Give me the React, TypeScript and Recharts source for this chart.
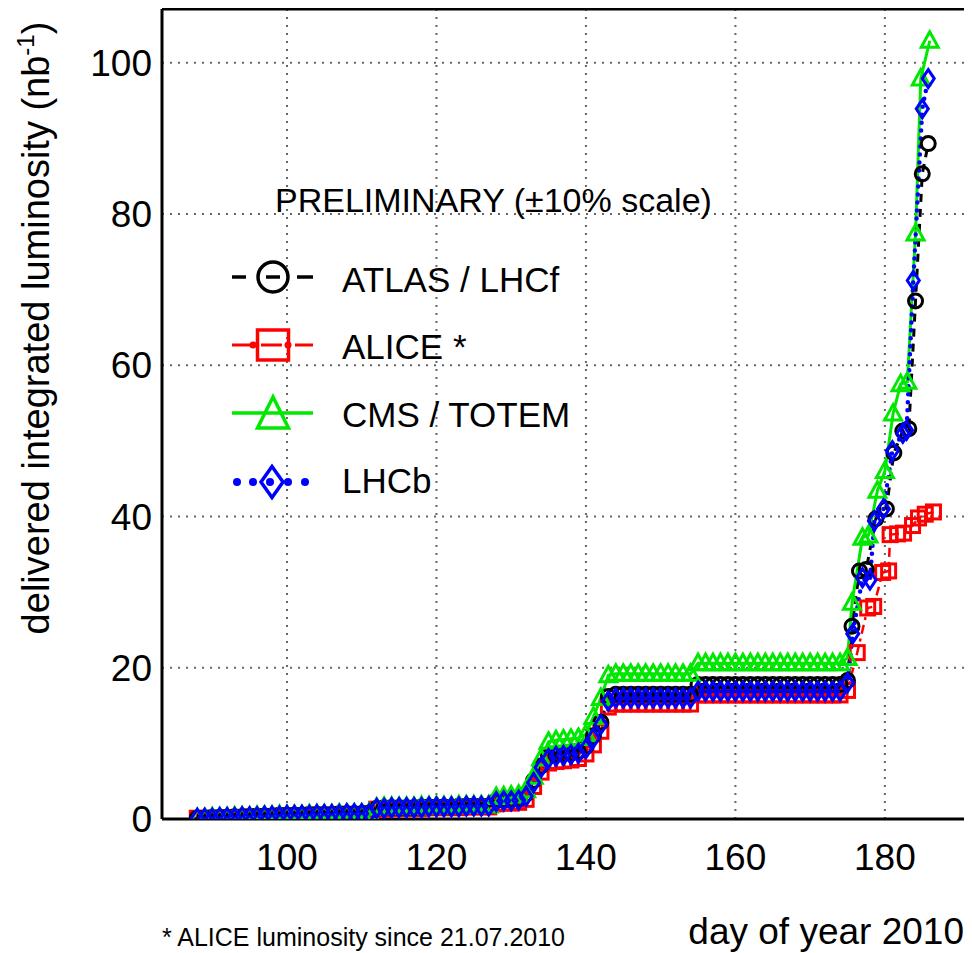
import { LineChart, Line, XAxis, YAxis, CartesianGrid, ReferenceLine } from "recharts";

const FONT = '"Liberation Sans", Arial, Helvetica, sans-serif';

const xTicks = [100, 120, 140, 160, 180];
const yTicks = [0, 20, 40, 60, 80, 100];

// days with one point per day (day of year 2010)
const dailyDays = [
  88, 89, 90, 91, 92, 93, 94, 95, 96, 97,
  98, 99, 100, 101, 102, 103, 104, 105, 106, 107,
  108, 109, 110, 111, 112, 113, 114, 115, 116, 117,
  118, 119, 120, 121, 122, 123, 124, 125, 126, 127,
  128, 129, 130, 131, 132, 133, 134, 135, 136, 137,
  138, 139, 140, 141, 142, 143, 144, 145, 146, 147,
  148, 149, 150, 151, 152, 153, 154, 155, 156, 157,
  158, 159, 160, 161, 162, 163, 164, 165, 166, 167,
  168, 169, 170, 171, 172, 173, 174,
];

// delivered integrated luminosity, nb^-1
const atlasDaily = [
  0.1, 0.1, 0.2, 0.2, 0.2, 0.3, 0.3, 0.3, 0.4, 0.4,
  0.4, 0.5, 0.5, 0.5, 0.5, 0.6, 0.6, 0.6, 0.6, 0.7,
  0.7, 0.7, 0.7, 0.8, 1.4, 1.5, 1.5, 1.5, 1.5, 1.5,
  1.6, 1.6, 1.6, 1.6, 1.6, 1.7, 1.7, 1.7, 1.7, 1.7,
  2.4, 2.5, 2.5, 2.6, 3.3, 5.1, 7.0, 8.3, 8.5, 8.6,
  8.7, 8.9, 9.6, 11.0, 12.8, 16.2, 16.5, 16.5, 16.5, 16.5,
  16.5, 16.5, 16.5, 16.5, 16.5, 16.5, 16.5, 17.8, 17.8, 17.8,
  17.8, 17.8, 17.8, 17.8, 17.8, 17.8, 17.8, 17.8, 17.8, 17.8,
  17.8, 17.8, 17.8, 17.8, 17.8, 17.8, 17.8,
];
const atlasTail: [number, number][] = [
  [175, 18.3], [175.6, 25.5], [176.6, 32.8], [177.5, 33.0], [178.8, 39.7], [180.2, 41.0],
  [181.2, 48.4], [182.4, 51.3], [183.2, 51.6], [184.1, 68.5], [185.0, 85.3], [185.8, 89.3],
];

const aliceDaily = [
  0.1, 0.1, 0.1, 0.1, 0.2, 0.2, 0.2, 0.3, 0.3, 0.3,
  0.3, 0.4, 0.4, 0.4, 0.4, 0.5, 0.5, 0.5, 0.5, 0.6,
  0.6, 0.6, 0.6, 0.7, 1.3, 1.3, 1.4, 1.4, 1.4, 1.4,
  1.4, 1.5, 1.5, 1.5, 1.5, 1.5, 1.6, 1.6, 1.6, 1.6,
  2.0, 2.1, 2.1, 2.2, 2.6, 4.3, 6.2, 7.4, 7.6, 7.7,
  7.8, 8.0, 8.6, 9.8, 11.6, 14.8, 15.2, 15.2, 15.2, 15.2,
  15.2, 15.2, 15.2, 15.2, 15.2, 15.2, 15.2, 16.4, 16.4, 16.4,
  16.4, 16.4, 16.4, 16.4, 16.4, 16.4, 16.4, 16.4, 16.4, 16.4,
  16.4, 16.4, 16.4, 16.4, 16.4, 16.4, 16.4,
];
const aliceTail: [number, number][] = [
  [175, 17.0], [176.3, 22.0], [177.7, 27.9], [178.5, 28.1], [179.7, 32.6], [180.5, 32.8],
  [180.7, 37.6], [181.7, 37.7], [182.5, 37.8], [183.7, 38.8], [184.5, 39.8], [185.4, 40.3],
  [186.5, 40.6],
];

const cmsDaily = [
  0.1, 0.1, 0.2, 0.2, 0.2, 0.3, 0.3, 0.3, 0.4, 0.4,
  0.4, 0.5, 0.5, 0.5, 0.5, 0.6, 0.6, 0.6, 0.6, 0.7,
  0.7, 0.7, 0.7, 0.8, 1.5, 1.6, 1.6, 1.6, 1.6, 1.6,
  1.7, 1.7, 1.7, 1.7, 1.7, 1.8, 1.8, 1.8, 1.8, 1.8,
  2.9, 3.0, 3.1, 3.2, 3.8, 5.6, 8.0, 10.2, 10.4, 10.5,
  10.6, 10.7, 11.2, 13.5, 16.0, 19.0, 19.2, 19.2, 19.2, 19.2,
  19.2, 19.2, 19.2, 19.2, 19.2, 19.2, 19.2, 20.6, 20.6, 20.6,
  20.6, 20.6, 20.6, 20.6, 20.6, 20.6, 20.6, 20.6, 20.6, 20.6,
  20.6, 20.6, 20.6, 20.6, 20.6, 20.6, 20.6,
];
const cmsTail: [number, number][] = [
  [175, 21.3], [175.6, 28.6], [177.0, 37.2], [177.8, 37.5], [179.0, 43.4], [180.0, 46.0],
  [181.1, 53.6], [182.1, 57.5], [183.0, 57.8], [184.1, 77.4], [184.8, 97.9], [186.0, 102.9],
];

const lhcbDaily = [
  0.1, 0.1, 0.1, 0.2, 0.2, 0.2, 0.3, 0.3, 0.3, 0.4,
  0.4, 0.4, 0.5, 0.5, 0.5, 0.5, 0.6, 0.6, 0.6, 0.6,
  0.7, 0.7, 0.7, 0.7, 1.4, 1.4, 1.5, 1.5, 1.5, 1.5,
  1.5, 1.6, 1.6, 1.6, 1.6, 1.6, 1.7, 1.7, 1.7, 1.7,
  2.3, 2.4, 2.4, 2.5, 3.0, 4.8, 6.8, 8.0, 8.3, 8.4,
  8.5, 8.7, 9.3, 10.7, 12.5, 15.6, 16.0, 16.0, 16.0, 16.0,
  16.0, 16.0, 16.0, 16.0, 16.0, 16.0, 16.0, 16.9, 16.9, 16.9,
  16.9, 16.9, 16.9, 16.9, 16.9, 16.9, 16.9, 16.9, 16.9, 16.9,
  16.9, 16.9, 16.9, 16.9, 16.9, 16.9, 16.9,
];
const lhcbTail: [number, number][] = [
  [175, 18.0], [175.7, 24.5], [177.0, 31.9], [178.0, 31.6], [178.6, 39.4], [179.8, 41.0],
  [181.0, 48.7], [182.4, 51.0], [182.9, 51.4], [183.8, 71.2], [185.0, 93.9], [185.8, 97.9],
];

const build = (daily: number[], tail: [number, number][]) =>
  dailyDays
    .map((d, i) => ({ day: d, lumi: daily[i] }))
    .concat(tail.map(([d, v]) => ({ day: d, lumi: v })));

const atlas = build(atlasDaily, atlasTail);
const alice = build(aliceDaily, aliceTail);
const cms = build(cmsDaily, cmsTail);
const lhcb = build(lhcbDaily, lhcbTail);

const BLACK = "#000000";
const RED = "#ff0000";
const GREEN = "#00e800";
const BLUE = "#0000ff";

const ok = (p: any) => Number.isFinite(p.cx) && Number.isFinite(p.cy);

const circleDot = (p: any) =>
  ok(p) ? (
    <circle key={`a${p.index}`} cx={p.cx} cy={p.cy} r={7} fill="none" stroke={BLACK} strokeWidth={3} />
  ) : (
    <g key={`a${p.index}`} />
  );

const squareDot = (p: any) =>
  ok(p) ? (
    <rect key={`r${p.index}`} x={p.cx - 7} y={p.cy - 7} width={14} height={14} fill="none" stroke={RED} strokeWidth={3} />
  ) : (
    <g key={`r${p.index}`} />
  );

const triangleDot = (p: any) =>
  ok(p) ? (
    <polygon
      key={`c${p.index}`}
      points={`${p.cx},${p.cy - 9} ${p.cx - 8.5},${p.cy + 6.5} ${p.cx + 8.5},${p.cy + 6.5}`}
      fill="none"
      stroke={GREEN}
      strokeWidth={3}
    />
  ) : (
    <g key={`c${p.index}`} />
  );

const diamondDot = (p: any) =>
  ok(p) ? (
    <polygon
      key={`l${p.index}`}
      points={`${p.cx},${p.cy - 9} ${p.cx + 6},${p.cy} ${p.cx},${p.cy + 9} ${p.cx - 6},${p.cy}`}
      fill="none"
      stroke={BLUE}
      strokeWidth={3}
    />
  ) : (
    <g key={`l${p.index}`} />
  );

const tickStyle = { fontSize: 37, fill: "#000", fontFamily: FONT };

function Overlay() {
  return (
    <svg
      width={964}
      height={945}
      style={{ position: "absolute", left: 0, top: 0, pointerEvents: "none" }}
      fontFamily={FONT}
    >
      {/* y axis title */}
      <text transform="translate(41,320) rotate(-90)" textAnchor="middle" fontSize={38} fill="#000">
        delivered integrated luminosity (nb
        <tspan fontSize={24} dy={-15}>-1</tspan>
        <tspan dy={15}>)</tspan>
      </text>
      {/* x axis title */}
      <text x={956} y={936} textAnchor="end" fontSize={37} fill="#000">
        day of year 2010
      </text>
      <text x={154} y={938} fontSize={25} fill="#000">
        * ALICE luminosity since 21.07.2010
      </text>

      {/* legend */}
      <text x={267} y={204} fontSize={34} fill="#000">
        PRELIMINARY (±10% scale)
      </text>

      {/* ATLAS */}
      <line x1={224} y1={269} x2={238} y2={269} stroke={BLACK} strokeWidth={3.5} />
      <line x1={289} y1={269} x2={305} y2={269} stroke={BLACK} strokeWidth={3.5} />
      <circle cx={265} cy={269} r={15} fill="none" stroke={BLACK} strokeWidth={3.5} />
      <line x1={258} y1={269} x2={272} y2={269} stroke={BLACK} strokeWidth={3.5} />
      <text x={334} y={283.5} fontSize={35} fill="#000">ATLAS / LHCf</text>

      {/* ALICE */}
      <line x1={224} y1={337} x2={242} y2={337} stroke={RED} strokeWidth={3} />
      <circle cx={245} cy={337} r={3.5} fill={RED} />
      <rect x={249.5} y={322} width={31} height={30} fill="none" stroke={RED} strokeWidth={3.5} />
      <line x1={253} y1={337} x2={274} y2={337} stroke={RED} strokeWidth={3} />
      <circle cx={280} cy={337} r={3.5} fill={RED} />
      <line x1={287} y1={337} x2={305} y2={337} stroke={RED} strokeWidth={3} />
      <text x={334} y={351} fontSize={35} fill="#000">ALICE *</text>

      {/* CMS */}
      <line x1={224} y1={405} x2={305} y2={405} stroke={GREEN} strokeWidth={3.5} />
      <polygon points="265,389 249.5,420 280.5,420" fill="none" stroke={GREEN} strokeWidth={3.5} />
      <text x={334} y={419} fontSize={35} fill="#000">CMS / TOTEM</text>

      {/* LHCb */}
      {[229, 245, 262, 280, 297].map((x) => (
        <circle key={x} cx={x} cy={474} r={4} fill={BLUE} />
      ))}
      <polygon points="264,458.5 275,474 264,489.5 253,474" fill="none" stroke={BLUE} strokeWidth={3.5} />
      <text x={334} y={485} fontSize={35} fill="#000">LHCb</text>
    </svg>
  );
}

export default function App() {
  return (
    <div
      style={{
        position: "relative",
        width: 964,
        height: 945,
        overflow: "hidden",
        background: "#fff",
        fontFamily: FONT,
      }}
    >
      <LineChart width={1000} height={900} margin={{ top: 1, right: 11, bottom: 29, left: 0 }}>
        <CartesianGrid stroke="#666" strokeWidth={2} strokeDasharray="2 6" />
        <XAxis
          dataKey="day"
          type="number"
          domain={[83.28, 195]}
          ticks={xTicks}
          allowDataOverflow
          height={60}
          tickSize={0}
          tickLine={false}
          tickMargin={25}
          axisLine={{ stroke: "#000", strokeWidth: 3 }}
          tick={tickStyle}
        />
        <YAxis
          type="number"
          domain={[0, 107.1]}
          ticks={yTicks}
          allowDataOverflow
          width={154}
          tickSize={0}
          tickLine={false}
          tickMargin={10}
          axisLine={{ stroke: "#000", strokeWidth: 3 }}
          tick={tickStyle}
        />
        <ReferenceLine y={107.1} stroke="#000" strokeWidth={3} />
        <ReferenceLine x={195} stroke="#000" strokeWidth={3} />
        <Line
          data={alice}
          dataKey="lumi"
          type="linear"
          stroke={RED}
          strokeWidth={2.5}
          strokeDasharray="9 5 3 5"
          dot={squareDot}
          activeDot={false}
          isAnimationActive={false}
        />
        <Line
          data={atlas}
          dataKey="lumi"
          type="linear"
          stroke={BLACK}
          strokeWidth={3}
          strokeDasharray="8 7"
          dot={circleDot}
          activeDot={false}
          isAnimationActive={false}
        />
        <Line
          data={cms}
          dataKey="lumi"
          type="linear"
          stroke={GREEN}
          strokeWidth={3}
          dot={triangleDot}
          activeDot={false}
          isAnimationActive={false}
        />
        <Line
          data={lhcb}
          dataKey="lumi"
          type="linear"
          stroke={BLUE}
          strokeWidth={4.5}
          strokeLinecap="round"
          strokeDasharray="0 8"
          dot={diamondDot}
          activeDot={false}
          isAnimationActive={false}
        />
      </LineChart>
      <Overlay />
    </div>
  );
}
